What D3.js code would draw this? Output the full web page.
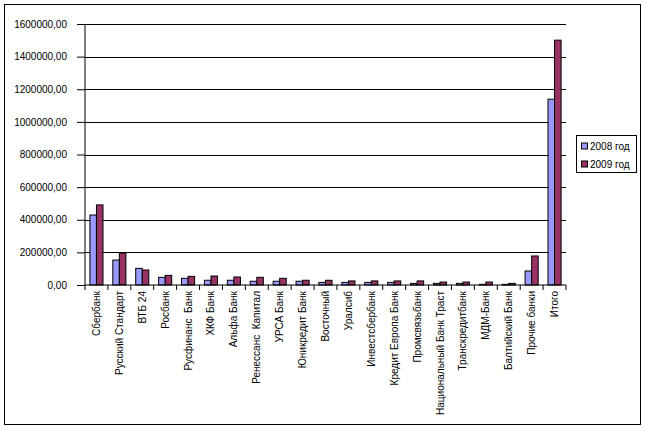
<!DOCTYPE html>
<html><head><meta charset="utf-8">
<script src="https://cdn.jsdelivr.net/npm/d3@7"></script>
<style>
html,body{margin:0;padding:0;background:#fff;}
svg{display:block;}
text{font-family:"Liberation Sans",Arial,sans-serif;font-size:10px;fill:#000;}
</style></head>
<body>
<svg id="chart" width="648" height="431"></svg>
<script>
const categories = ["Сбербанк","Русский Стандарт","ВТБ 24","Росбанк","Русфинанс  Банк","ХКФ Банк","Альфа Банк","Ренессанс  Капитал","УРСА Банк","Юникредит Банк","Восточный","Уралсиб","Инвестсбербанк","Кредит Европа Банк","Промсвязьбанк","Национальный Банк Траст","Транскредитбанк","МДМ-Банк","Балтийский Банк","Прочие банки","Итого"];
const series2008 = [429000,153000,102000,47000,41000,29000,29000,23000,23000,23000,16000,16000,16000,16000,10000,10000,10000,4000,4000,86000,1139000];
const series2009 = [491000,196000,92000,59000,53000,55000,49000,47000,41000,29000,29000,25000,25000,25000,25000,18000,18000,18000,10000,178000,1501000];
const seriesNames = ["2008 год","2009 год"];
const seriesColors = ["#9999FF","#993366"];
const yTicks = [0,200000,400000,600000,800000,1000000,1200000,1400000,1600000];

(function(){
const svg = d3.select("#chart");
svg.append("rect").attr("x",4.5).attr("y",4.5).attr("width",636).attr("height",420)
  .attr("fill","#fff").attr("stroke","#000").attr("stroke-width",1);

const pL = 85, pR = 566, pT = 24, pB = 285;
const x = d3.scaleBand().domain(categories).range([pL,pR]).padding(0);
const y = d3.scaleLinear().domain([0,1600000]).range([pB,pT]);
const fmt = v => v.toFixed(2).replace(".",",");

// gridlines
svg.append("g").attr("transform",`translate(${pL},0)`)
  .call(d3.axisLeft(y).tickValues(yTicks.slice(1)).tickSize(-(pR-pL)).tickFormat(""))
  .call(g=>g.select(".domain").remove())
  .call(g=>g.selectAll("line").attr("stroke","#000").attr("shape-rendering","crispEdges"));

// bars
const bw = x.bandwidth()/3.5;
const data = [series2008, series2009];
data.forEach((s,si)=>{
  svg.append("g").selectAll("rect").data(categories).join("rect")
    .attr("x",(d)=>x(d)+x.bandwidth()/2 - bw + si*bw)
    .attr("y",(d,i)=>y(s[i]))
    .attr("width",bw)
    .attr("height",(d,i)=>y(0)-y(s[i]))
    .attr("fill",seriesColors[si]).attr("stroke","#000").attr("stroke-width",1);
});

// y axis
svg.append("g").attr("transform",`translate(${pL},0)`)
  .call(d3.axisLeft(y).tickValues(yTicks).tickSize(8).tickPadding(10).tickFormat(fmt))
  .call(g=>g.select(".domain").attr("stroke","#000").attr("d",`M0,${pT}V${pB+5}`))
  .call(g=>g.selectAll("line").attr("stroke","#000"))
  .call(g=>g.selectAll("text").attr("font-family","Liberation Sans, Arial").attr("font-size",10).attr("fill","#000"));

// x axis
svg.append("line").attr("x1",pL).attr("x2",pR).attr("y1",pB).attr("y2",pB).attr("stroke","#000");
svg.append("g").selectAll("line").data(categories).join("line")
  .attr("x1",d=>x(d)+x.bandwidth()).attr("x2",d=>x(d)+x.bandwidth())
  .attr("y1",pB).attr("y2",pB+5).attr("stroke","#000");
svg.append("g").selectAll("text").data(categories).join("text")
  .attr("transform",d=>`translate(${x(d)+x.bandwidth()/2},${pB+6}) rotate(-90)`)
  .attr("dy","0.35em").attr("text-anchor","end").style("white-space","pre")
  .text(d=>d);

// legend
const lg = svg.append("g");
lg.append("rect").attr("x",576.5).attr("y",135.5).attr("width",60).attr("height",37)
  .attr("fill","#fff").attr("stroke","#000");
seriesNames.forEach((n,i)=>{
  const cy = 146 + i*18;
  lg.append("rect").attr("x",581.5).attr("y",cy-3).attr("width",6).attr("height",6)
    .attr("fill",seriesColors[i]).attr("stroke","#000");
  lg.append("text").attr("x",590).attr("y",cy).attr("dy","0.35em").text(n);
});
})();
</script>
</body></html>
